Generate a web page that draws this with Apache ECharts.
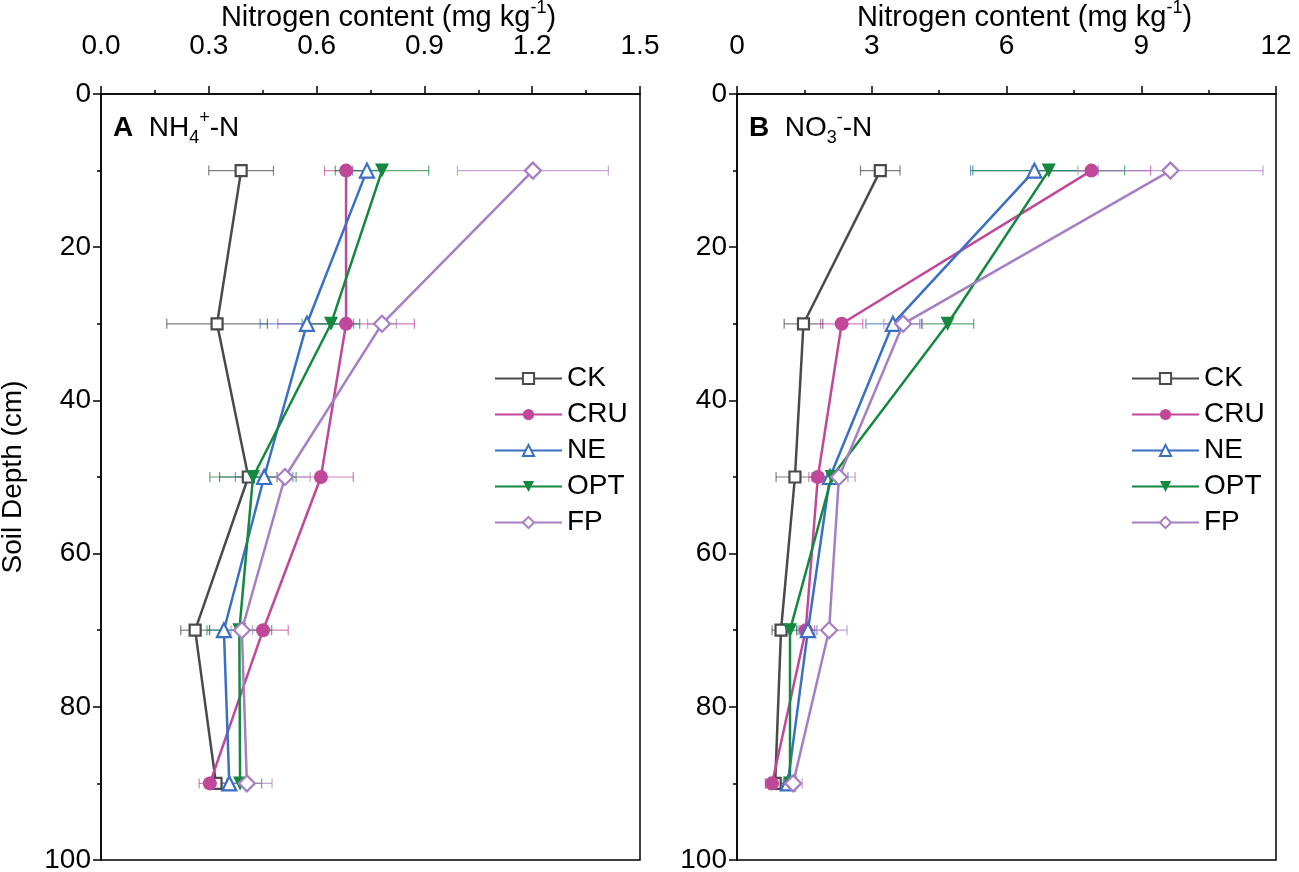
<!DOCTYPE html>
<html>
<head>
<meta charset="utf-8">
<script src="https://cdn.jsdelivr.net/npm/echarts@6/dist/echarts.min.js"></script>
<style>
  html, body { margin: 0; padding: 0; background: #fff; }
  #chart { width: 1299px; height: 872px; }
</style>
</head>
<body>
<div id="chart"></div>
<script>
// soil depths (cm) and treatments
const depths = [10, 30, 50, 70, 90];
const treatments = ['CK', 'CRU', 'NE', 'OPT', 'FP'];

// panel A: NH4+-N means and error (mg/kg)
const nh4_CK = [0.39, 0.323, 0.41, 0.262, 0.32];
const nh4_CRU = [0.682, 0.682, 0.612, 0.451, 0.303];
const nh4_NE = [0.74, 0.573, 0.454, 0.342, 0.357];
const nh4_OPT = [0.782, 0.64, 0.423, 0.385, 0.387];
const nh4_FP = [1.202, 0.782, 0.512, 0.392, 0.406];
const nh4_CK_err = [0.09, 0.14, 0.08, 0.04, 0.03];
const nh4_CRU_err = [0.06, 0.19, 0.09, 0.07, 0.03];
const nh4_NE_err = [0.04, 0.13, 0.08, 0.04, 0.04];
const nh4_OPT_err = [0.13, 0.08, 0.12, 0.09, 0.06];
const nh4_FP_err = [0.21, 0.04, 0.07, 0.03, 0.07];

// panel B: NO3--N means and error (mg/kg)
const no3_CK = [3.19, 1.48, 1.29, 0.98, 0.85];
const no3_CRU = [7.89, 2.33, 1.80, 1.53, 0.78];
const no3_NE = [6.62, 3.47, 2.07, 1.58, 1.13];
const no3_OPT = [6.94, 4.69, 2.11, 1.18, 1.18];
const no3_FP = [9.65, 3.70, 2.27, 2.05, 1.25];
const no3_CK_err = [0.44, 0.43, 0.42, 0.2, 0.2];
const no3_CRU_err = [1.32, 0.47, 0.2, 0.2, 0.15];
const no3_NE_err = [1.42, 0.6, 0.4, 0.2, 0.2];
const no3_OPT_err = [1.69, 0.58, 0.25, 0.15, 0.15];
const no3_FP_err = [2.06, 0.43, 0.36, 0.4, 0.2];

const colors = ['#4a4a4a', '#c0479a', '#3a6fc4', '#14883e', '#a57fc4'];
const symbols = ['rect', 'circle', 'triangle', 'triangle', 'diamond'];
const rotates = [0, 0, 0, 180, 0];
const hollow = [true, false, true, false, true];

const FONT = 'Liberation Sans';

let chartDom = document.getElementById('chart');
let myChart = echarts.init(chartDom, null, { renderer: 'canvas' });

function lineSeries(name, i, values, axisIndex) {
    return {
        name: name,
        type: 'line',
        xAxisIndex: axisIndex,
        yAxisIndex: axisIndex,
        data: values.map((v, k) => [v, depths[k]]),
        symbol: symbols[i],
        symbolRotate: rotates[i],
        symbolSize: symbols[i] === 'rect' ? 11 : (symbols[i] === 'diamond' ? 16 : 14),
        lineStyle: { color: colors[i], width: 2.5 },
        itemStyle: {
            color: hollow[i] ? '#fff' : colors[i],
            borderColor: colors[i],
            borderWidth: hollow[i] ? 2.2 : 0
        },
        z: 5 + i,
        animation: false
    };
}

function errSeries(name, i, values, errs, axisIndex) {
    return {
        name: name + ' err',
        type: 'custom',
        xAxisIndex: axisIndex,
        yAxisIndex: axisIndex,
        data: values.map((v, k) => [v, depths[k], errs[k]]),
        encode: { x: 0, y: 1 },
        renderItem: function (params, api) {
            let m = api.value(0), d = api.value(1), e = api.value(2);
            let p0 = api.coord([m - e, d]);
            let p1 = api.coord([m + e, d]);
            let st = { stroke: colors[i], lineWidth: 1.2, opacity: 0.7 };
            return {
                type: 'group',
                children: [
                    { type: 'line', shape: { x1: p0[0], y1: p0[1], x2: p1[0], y2: p1[1] }, style: st },
                    { type: 'line', shape: { x1: p0[0], y1: p0[1] - 5, x2: p0[0], y2: p0[1] + 5 }, style: st },
                    { type: 'line', shape: { x1: p1[0], y1: p1[1] - 5, x2: p1[0], y2: p1[1] + 5 }, style: st }
                ]
            };
        },
        z: 2,
        silent: true,
        animation: false
    };
}

const nh4Vals = [nh4_CK, nh4_CRU, nh4_NE, nh4_OPT, nh4_FP];
const nh4Errs = [nh4_CK_err, nh4_CRU_err, nh4_NE_err, nh4_OPT_err, nh4_FP_err];
const no3Vals = [no3_CK, no3_CRU, no3_NE, no3_OPT, no3_FP];
const no3Errs = [no3_CK_err, no3_CRU_err, no3_NE_err, no3_OPT_err, no3_FP_err];

let series = [];
treatments.forEach((t, i) => {
    series.push(errSeries(t, i, nh4Vals[i], nh4Errs[i], 0));
    series.push(errSeries(t, i, no3Vals[i], no3Errs[i], 1));
});
treatments.forEach((t, i) => {
    series.push(lineSeries(t, i, nh4Vals[i], 0));
    series.push(lineSeries(t, i, no3Vals[i], 1));
});

const supRich = {
    sup: { fontSize: 18, lineHeight: 18, verticalAlign: 'top', fontFamily: FONT, color: '#000' },
    sub: { fontSize: 18, lineHeight: 18, verticalAlign: 'bottom', fontFamily: FONT, color: '#000' },
    b: { fontWeight: 'bold', fontSize: 28, lineHeight: 38, fontFamily: FONT, color: '#000' }
};

function xAxisDef(gridIndex, max, interval, fmt) {
    return {
        type: 'value',
        gridIndex: gridIndex,
        position: 'top',
        min: 0,
        max: max,
        interval: interval,
        name: 'Nitrogen content (mg kg{sup|-1})',
        nameLocation: 'middle',
        nameGap: 57,
        nameMoveOverlap: false,
        nameTextStyle: {
            fontFamily: FONT, fontSize: 29, color: '#000', lineHeight: 38,
            padding: [0, 0, 0, 36],
            rich: supRich
        },
        axisLine: { show: true, lineStyle: { color: '#000', width: 1.5 } },
        axisTick: { show: true, inside: false, length: 8, lineStyle: { color: '#000', width: 1.5 } },
        minorTick: { show: true, splitNumber: 2, length: 4, lineStyle: { color: '#000', width: 1.5 } },
        splitLine: { show: false },
        axisLabel: {
            fontFamily: FONT, fontSize: 28, color: '#000', margin: 34,
            formatter: fmt
        }
    };
}

function yAxisDef(gridIndex, showName) {
    return {
        type: 'value',
        gridIndex: gridIndex,
        inverse: true,
        min: 0,
        max: 100,
        interval: 20,
        name: showName ? 'Soil Depth (cm)' : '',
        nameLocation: 'middle',
        nameGap: 74,
        nameMoveOverlap: false,
        nameTextStyle: { fontFamily: FONT, fontSize: 28, color: '#000' },
        axisLine: { show: true, lineStyle: { color: '#000', width: 1.5 } },
        axisTick: { show: true, inside: false, length: 8, lineStyle: { color: '#000', width: 1.5 } },
        minorTick: { show: true, splitNumber: 2, length: 4, lineStyle: { color: '#000', width: 1.5 } },
        splitLine: { show: false },
        axisLabel: { fontFamily: FONT, fontSize: 28, color: '#000', margin: 10 }
    };
}

function legendDef(left) {
    return {
        data: treatments,
        orient: 'vertical',
        left: left,
        top: 364,
        padding: 0,
        itemWidth: 67,
        itemHeight: 14,
        itemGap: 7,
        selectedMode: false,
        textStyle: { fontFamily: FONT, fontSize: 28, color: '#000', lineHeight: 29, padding: [0, 0, 0, 0] }
    };
}

const gridBase = {
    top: 94, width: 539, height: 766, show: true,
    borderColor: '#000', borderWidth: 1.5, backgroundColor: 'transparent',
    containLabel: false, outerBoundsMode: 'none'
};

let option = {
    backgroundColor: '#fff',
    animation: false,
    grid: [
        Object.assign({ left: 101 }, gridBase),
        Object.assign({ left: 737 }, gridBase)
    ],
    xAxis: [
        xAxisDef(0, 1.5, 0.3, v => v.toFixed(1)),
        xAxisDef(1, 12, 3, v => String(v))
    ],
    yAxis: [
        yAxisDef(0, true),
        yAxisDef(1, false)
    ],
    legend: [legendDef(494), legendDef(1131)],
    graphic: [
        {
            type: 'text', left: 113, top: 109,
            style: {
                text: '{b|A}  NH{sub|4}{sup|+}-N',
                fontFamily: FONT, fontSize: 28, fill: '#000', lineHeight: 38,
                rich: supRich
            }
        },
        {
            type: 'text', left: 749, top: 109,
            style: {
                text: '{b|B}  NO{sub|3}{sup|-}-N',
                fontFamily: FONT, fontSize: 28, fill: '#000', lineHeight: 38,
                rich: supRich
            }
        }
    ],
    series: series
};

option && myChart.setOption(option);
</script>
</body>
</html>
